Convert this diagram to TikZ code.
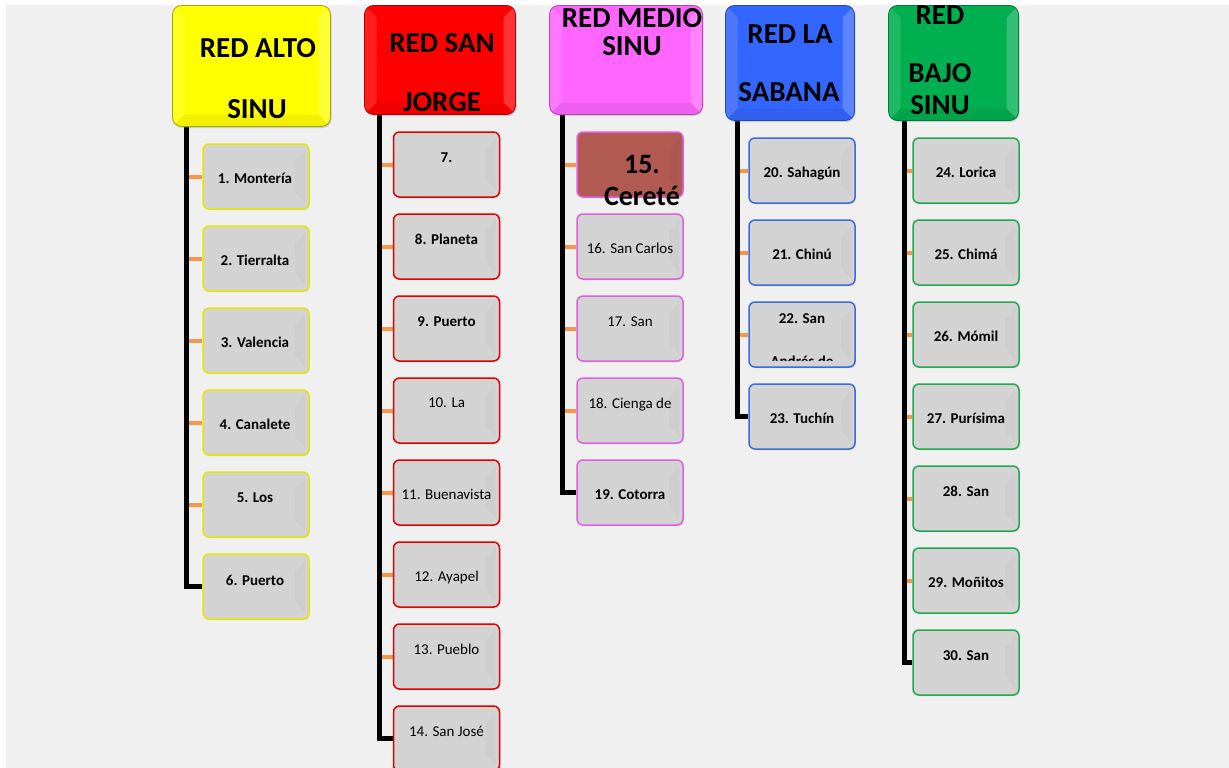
\documentclass[tikz,border=0pt]{standalone}
\usepackage{fontspec}
\setmainfont{Carlito}
\usetikzlibrary{calc,shadows}
\definecolor{bgc}{HTML}{F0F0F0}
\definecolor{cyel}{HTML}{FFFF00}
\definecolor{cred}{HTML}{FF0000}
\definecolor{cmag}{HTML}{FF66FF}
\definecolor{cblu}{HTML}{3366FF}
\definecolor{cgrn}{HTML}{00B050}
\definecolor{byel}{HTML}{E6E600}
\definecolor{bred}{HTML}{E00000}
\definecolor{bmag}{HTML}{E060E0}
\definecolor{bblu}{HTML}{3A6BE0}
\definecolor{bgrn}{HTML}{22A850}
\definecolor{cfill}{HTML}{D3D3D3}
\definecolor{brown15}{HTML}{B05A52}
\definecolor{stubc}{HTML}{F7964A}
\pgfdeclarelayer{back}
\pgfdeclarelayer{lines}
\pgfsetlayers{back,lines,main}
\begin{document}
\begin{tikzpicture}[x=1pt,y=-1pt,
  header/.style={draw=#1, line width=0.8pt, rounded corners=9pt, inner sep=0pt,
    drop shadow={opacity=0.3,shadow xshift=1pt,shadow yshift=-1.5pt},
    path picture={
      \fill[white,opacity=0.12,sharp corners] (path picture bounding box.north west) -- ([xshift=12pt,yshift=-12pt]path picture bounding box.north west) -- ([xshift=12pt,yshift=12pt]path picture bounding box.south west) -- (path picture bounding box.south west) -- cycle;
      \fill[white,opacity=0.2,sharp corners] (path picture bounding box.north east) -- ([xshift=-12pt,yshift=-12pt]path picture bounding box.north east) -- ([xshift=-12pt,yshift=12pt]path picture bounding box.south east) -- (path picture bounding box.south east) -- cycle;
      \fill[black,opacity=0.06,sharp corners] (path picture bounding box.south west) -- ([xshift=12pt,yshift=12pt]path picture bounding box.south west) -- ([xshift=-12pt,yshift=12pt]path picture bounding box.south east) -- (path picture bounding box.south east) -- cycle;
    }},
  child/.style={draw=#1, line width=1.5pt, fill=cfill, rounded corners=6pt,
    minimum width=106pt, minimum height=65pt, inner sep=0pt,
    drop shadow={opacity=0.25,shadow xshift=0.8pt,shadow yshift=-1pt},
    path picture={
      \fill[black,opacity=0.02,sharp corners] ([xshift=-4pt,yshift=-6pt]path picture bounding box.north east) -- ([xshift=-14pt,yshift=-18pt]path picture bounding box.north east) -- ([xshift=-14pt,yshift=18pt]path picture bounding box.south east) -- ([xshift=-4pt,yshift=6pt]path picture bounding box.south east) -- cycle;
    }},
  htext/.style={font=\fontsize{29}{32}\selectfont\bfseries, anchor=base, inner sep=0pt},
  ctb/.style={font=\fontsize{15}{18}\selectfont\bfseries, anchor=base, inner sep=0pt},
  ctr/.style={font=\fontsize{15}{18}\selectfont, anchor=base, inner sep=0pt},
  trunk/.style={line width=5pt, black},
  stub/.style={line width=4pt, stubc}
]
\useasboundingbox (0,0) rectangle (1229,768);
\begin{pgfonlayer}{back}
\fill[white] (0,0) rectangle (1229,768);
\fill[bgc] (6,5) rectangle (1229,768);
\end{pgfonlayer}

% ---------- headers ----------
\node[header=cyel!65!black, fill=cyel, minimum width=158pt, minimum height=121pt] (h1) at (251.5,66) {};
\node[header=cred!70!black, fill=cred, minimum width=151pt, minimum height=109pt] (h2) at (440,60) {};
\node[header=cmag!70!black, fill=cmag, minimum width=153pt, minimum height=109pt] (h3) at (626,60) {};
\node[header=cblu!70!black, fill=cblu, minimum width=129pt, minimum height=115pt] (h4) at (790,63) {};
\node[header=cgrn!70!black, fill=cgrn, minimum width=130pt, minimum height=115pt] (h5) at (953.5,63) {};

\node[htext] (h1a) at (258,58) {RED ALTO};
\node[htext] (h1b) at (257,118) {SINU};
\node[htext] (h2a) at (442,53) {RED SAN};
\node[htext] (h2b) at (442,111) {JORGE};
\node[htext] (h3a) at (632,28) {RED MEDIO};
\node[htext] (h3b) at (632,56) {SINU};
\node[htext] (h4a) at (790,44) {RED LA};
\node[htext] (h4b) at (789,102) {SABANA};
\node[htext] (h5a) at (940,25) {RED};
\node[htext] (h5b) at (940,83) {BAJO};
\node[htext] (h5c) at (940,114) {SINU};

% ---------- column 1 ----------
\node[child=byel] (c1) at (256,176.5) {};
\node[child=byel] (c2) at (256,258.5) {};
\node[child=byel] (c3) at (256,340.5) {};
\node[child=byel] (c4) at (256,422.5) {};
\node[child=byel] (c5) at (256,504.5) {};
\node[child=byel] (c6) at (256,586.5) {};
\node[ctb] (c1t) at ($(c1.center)+(-1,6.5)$) {1. Montería};
\node[ctb] (c2t) at ($(c2.center)+(-1,6.5)$) {2. Tierralta};
\node[ctb] (c3t) at ($(c3.center)+(-1,6.5)$) {3. Valencia};
\node[ctb] (c4t) at ($(c4.center)+(-1,6.5)$) {4. Canalete};
\node[ctb] (c5t) at ($(c5.north)+(-1,31)$) {5. Los};
\node[ctb] (c6t) at ($(c6.center)+(-1,-1)$) {6. Puerto};

% ---------- column 2 ----------
\node[child=bred] (d7) at (446.5,164.5) {};
\node[child=bred] (d8) at (446.5,246.5) {};
\node[child=bred] (d9) at (446.5,328.5) {};
\node[child=bred] (d10) at (446.5,410.5) {};
\node[child=bred] (d11) at (446.5,492.5) {};
\node[child=bred] (d12) at (446.5,574.5) {};
\node[child=bred] (d13) at (446.5,656.5) {};
\node[child=bred] (d14) at (446.5,738.5) {};
\node[ctb] (d7t) at ($(d7.north)+(0,31)$) {7.};
\node[ctb] (d8t) at ($(d8.north)+(0,31)$) {8. Planeta};
\node[ctb] (d9t) at ($(d9.north)+(0,31)$) {9. Puerto};
\node[ctr] (d10t) at ($(d10.north)+(0,30)$) {10. La};
\node[ctr] (d11t) at ($(d11.center)+(0,6.5)$) {11. Buenavista};
\node[ctr] (d12t) at ($(d12.center)+(0,6.5)$) {12. Ayapel};
\node[ctr] (d13t) at ($(d13.north)+(0,31)$) {13. Pueblo};
\node[ctr] (d14t) at ($(d14.north)+(0,31)$) {14. San José};

% ---------- column 3 ----------
\node[child=bmag, fill=brown15] (e15) at (630,164.5) {};
\node[child=bmag] (e16) at (630,246.5) {};
\node[child=bmag] (e17) at (630,328.5) {};
\node[child=bmag] (e18) at (630,410.5) {};
\node[child=bmag] (e19) at (630,492.5) {};
\node[htext, font=\fontsize{28}{30}\selectfont\bfseries] (e15a) at (642,173) {15.};
\node[htext, font=\fontsize{28}{30}\selectfont\bfseries] (e15b) at (642,205) {Cereté};
\node[ctr] (e16t) at ($(e16.center)+(0,6.5)$) {16. San Carlos};
\node[ctr] (e17t) at ($(e17.north)+(0,31)$) {17. San};
\node[ctr] (e18t) at ($(e18.north)+(0,31)$) {18. Cienga de};
\node[ctb] (e19t) at ($(e19.center)+(0,6.5)$) {19. Cotorra};

% ---------- column 4 ----------
\node[child=bblu] (f20) at (802,170.5) {};
\node[child=bblu] (f21) at (802,252.5) {};
\node[child=bblu] (f22) at (802,334.5) {};
\node[child=bblu] (f23) at (802,416.5) {};
\node[ctb] (f20t) at ($(f20.center)+(0,6.5)$) {20. Sahagún};
\node[ctb] (f21t) at ($(f21.center)+(0,6.5)$) {21. Chinú};
\node[ctb] (f22t) at ($(f22.north)+(0,22)$) {22. San};
\begin{scope}
\clip (748,301) rectangle (856,360.5);
\node[ctb] (f22u) at ($(f22.north)+(0,366)-(0,301)$) {Andrés de};
\end{scope}
\node[ctb] (f23t) at ($(f23.center)+(0,6.5)$) {23. Tuchín};

% ---------- column 5 ----------
\node[child=bgrn] (g24) at (966,170.5) {};
\node[child=bgrn] (g25) at (966,252.5) {};
\node[child=bgrn] (g26) at (966,334.5) {};
\node[child=bgrn] (g27) at (966,416.5) {};
\node[child=bgrn] (g28) at (966,498.5) {};
\node[child=bgrn] (g29) at (966,580.5) {};
\node[child=bgrn] (g30) at (966,662.5) {};
\node[ctb] (g24t) at ($(g24.center)+(0,6.5)$) {24. Lorica};
\node[ctb] (g25t) at ($(g25.center)+(0,6.5)$) {25. Chimá};
\node[ctb] (g26t) at ($(g26.center)+(0,6.5)$) {26. Mómil};
\node[ctb] (g27t) at ($(g27.center)+(0,6.5)$) {27. Purísima};
\node[ctb] (g28t) at ($(g28.north)+(0,31)$) {28. San};
\node[ctb] (g29t) at ($(g29.center)+(0,6.5)$) {29. Moñitos};
\node[ctb] (g30t) at ($(g30.north)+(0,31)$) {30. San};

% ---------- connectors ----------
\begin{pgfonlayer}{lines}
\coordinate (t1) at ($(h1.south west)+(14,0)$);
\coordinate (t2) at ($(h2.south west)+(15,0)$);
\coordinate (t3) at ($(h3.south west)+(13,0)$);
\coordinate (t4) at ($(h4.south west)+(12,0)$);
\coordinate (t5) at ($(h5.south west)+(16,0)$);
\foreach \c in {c1,c2,c3,c4,c5} \draw[stub] (\c.west) -- (\c.west -| t1);
\foreach \c in {d7,d8,d9,d10,d11,d12,d13} \draw[stub] (\c.west) -- (\c.west -| t2);
\foreach \c in {e15,e16,e17,e18} \draw[stub] (\c.west) -- (\c.west -| t3);
\foreach \c in {f20,f21,f22} \draw[stub] (\c.west) -- (\c.west -| t4);
\foreach \c in {g24,g25,g26,g27,g28,g29} \draw[stub] (\c.west) -- (\c.west -| t5);
\draw[trunk] (t1) |- (c6.west);
\draw[trunk] (t2) |- (d14.west);
\draw[trunk] (t3) |- (e19.west);
\draw[trunk] (t4) |- (f23.west);
\draw[trunk] (t5) |- (g30.west);
\end{pgfonlayer}
\end{tikzpicture}
\end{document}
